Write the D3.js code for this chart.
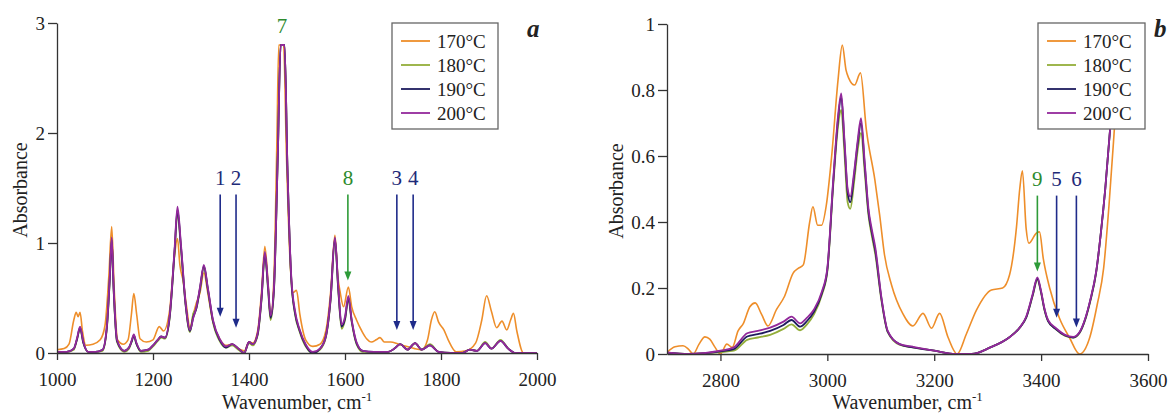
<!DOCTYPE html>
<html><head><meta charset="utf-8">
<script src="https://cdn.jsdelivr.net/npm/d3@7"></script>
<style>
body{margin:0;background:#fff}
svg{display:block}
svg text{font-family:"Liberation Serif","Times New Roman",serif !important;fill:#222}
</style>
</head><body>
<svg id="c" width="1169" height="414" font-family="Liberation Serif"></svg>
<script>
// ---------- DATA : panel a (1000–2000 cm-1) ----------
const seriesNames = ["170°C", "180°C", "190°C", "200°C"];

const aWn = [1000,1020,1035,1042,1048,1055,1065,1080,1095,1104,
1110,1114,1118,1125,1140,1150,1156,1160,1165,1175,
1190,1200,1210,1217,1225,1235,1245,1251,1258,1268,
1277,1284,1290,1298,1306,1314,1325,1340,1352,1365,
1378,1390,1400,1408,1418,1426,1433,1440,1445,1452,
1460,1466,1474,1480,1488,1496,1505,1518,1533,1548,
1560,1570,1579,1586,1593,1600,1607,1614,1624,1637,
1660,1690,1703,1715,1730,1746,1760,1777,1795,1820,
1845,1860,1875,1892,1905,1924,1940,1955,1970,2000];

const a200 = [0.01,0.01,0.04,0.14,0.24,0.10,0.01,0.01,0.03,0.25,
0.70,1.05,0.60,0.12,0.02,0.05,0.12,0.17,0.10,0.02,
0.03,0.07,0.12,0.15,0.14,0.35,0.95,1.33,1.00,0.45,
0.21,0.32,0.41,0.60,0.80,0.60,0.30,0.12,0.06,0.08,
0.04,0.00,0.10,0.08,0.18,0.50,0.92,0.60,0.34,0.60,
1.80,2.80,2.80,1.70,0.70,0.38,0.22,0.08,0.01,0.04,
0.15,0.50,1.05,0.60,0.26,0.33,0.52,0.30,0.10,0.02,
0.01,0.01,0.04,0.08,0.03,0.09,0.03,0.07,0.01,0.00,
0.00,0.03,0.02,0.09,0.04,0.11,0.04,0.00,0.00,0.00];

const a190 = [0.01,0.01,0.04,0.13,0.23,0.09,0.01,0.01,0.03,0.24,
0.68,1.03,0.58,0.11,0.02,0.05,0.11,0.16,0.09,0.02,
0.03,0.07,0.12,0.15,0.14,0.34,0.93,1.30,0.98,0.44,
0.20,0.33,0.40,0.59,0.79,0.59,0.29,0.11,0.05,0.08,
0.04,0.00,0.10,0.08,0.17,0.49,0.90,0.58,0.32,0.58,
1.80,2.80,2.80,1.70,0.68,0.36,0.21,0.07,0.00,0.04,
0.15,0.49,1.04,0.58,0.24,0.31,0.50,0.29,0.09,0.02,
0.01,0.01,0.04,0.08,0.03,0.09,0.03,0.07,0.01,0.00,
0.00,0.03,0.02,0.09,0.04,0.11,0.04,0.00,0.00,0.00];

const a180 = [0.01,0.01,0.03,0.13,0.22,0.09,0.01,0.01,0.02,0.23,
0.67,1.02,0.57,0.10,0.01,0.04,0.11,0.16,0.09,0.01,
0.02,0.06,0.11,0.14,0.13,0.33,0.92,1.28,0.96,0.43,
0.19,0.36,0.40,0.58,0.78,0.58,0.28,0.10,0.05,0.07,
0.03,0.00,0.09,0.07,0.16,0.48,0.89,0.56,0.30,0.57,
1.80,2.80,2.80,1.70,0.67,0.35,0.20,0.06,0.00,0.03,
0.14,0.48,1.03,0.57,0.22,0.30,0.49,0.28,0.08,0.01,
0.01,0.01,0.04,0.08,0.03,0.09,0.03,0.08,0.01,0.00,
0.00,0.03,0.02,0.10,0.04,0.12,0.04,0.00,0.00,0.00];

const aWn170 = [1000,1015,1025,1035,1040,1044,1048,1053,1060,1075,
1090,1100,1108,1114,1119,1126,1138,1148,1155,1160,
1166,1173,1186,1200,1213,1222,1235,1244,1251,1256,
1263,1270,1277,1284,1290,1298,1306,1314,1325,1340,
1352,1365,1378,1390,1400,1408,1418,1426,1433,1440,
1445,1452,1458,1462,1472,1478,1486,1492,1499,1506,
1518,1533,1548,1560,1570,1579,1585,1590,1597,1607,
1614,1624,1635,1645,1655,1665,1673,1682,1695,1712,
1729,1745,1760,1772,1780,1787,1795,1806,1815,1832,
1852,1872,1885,1895,1905,1916,1927,1937,1945,1951,
1958,1972,2000];

const a170 = [0.03,0.04,0.08,0.30,0.37,0.33,0.37,0.20,0.07,0.08,
0.12,0.25,0.70,1.15,0.60,0.12,0.08,0.12,0.35,0.54,
0.35,0.13,0.10,0.12,0.24,0.20,0.40,0.85,1.04,0.80,
0.65,0.42,0.23,0.35,0.45,0.55,0.73,0.55,0.28,0.12,
0.07,0.08,0.04,0.02,0.10,0.09,0.20,0.55,0.97,0.62,
0.32,0.70,1.90,2.80,2.80,1.80,0.80,0.55,0.57,0.35,
0.12,0.06,0.08,0.20,0.55,1.07,0.70,0.55,0.42,0.60,
0.42,0.30,0.20,0.13,0.10,0.12,0.14,0.10,0.10,0.08,
0.06,0.04,0.03,0.12,0.30,0.375,0.28,0.21,0.12,0.01,
0.02,0.09,0.30,0.52,0.38,0.23,0.29,0.21,0.30,0.36,
0.20,0.00,0.00];

// ---------- DATA : panel b (2700–3600 cm-1) ----------
const bWn = [2700,2740,2800,2825,2850,2870,2893,2918,2933,2949,
2962,2975,2990,3000,3011,3020,3026,3032,3038,3043,
3050,3057,3063,3070,3077,3083,3090,3101,3113,3135,
3160,3200,3240,3270,3305,3340,3360,3372,3384,3393,
3400,3406,3413,3428,3445,3460,3472,3483,3492,3503,
3512,3520,3530,3545];

const b200 = [0.005,0.0,0.01,0.02,0.063,0.07,0.08,0.098,0.113,0.093,
0.11,0.135,0.19,0.26,0.527,0.72,0.79,0.65,0.50,0.477,
0.55,0.65,0.715,0.58,0.44,0.38,0.32,0.174,0.07,0.03,
0.022,0.01,0.0,0.0,0.02,0.05,0.08,0.113,0.18,0.232,
0.19,0.14,0.103,0.078,0.058,0.052,0.067,0.11,0.164,0.25,
0.37,0.50,0.70,1.05];

const b190 = [0.004,0.0,0.008,0.015,0.053,0.06,0.07,0.088,0.103,0.083,
0.10,0.128,0.185,0.255,0.52,0.71,0.78,0.64,0.49,0.46,
0.54,0.64,0.70,0.57,0.43,0.37,0.31,0.17,0.068,0.03,
0.02,0.01,0.0,0.0,0.02,0.05,0.08,0.11,0.177,0.228,
0.187,0.137,0.10,0.075,0.056,0.05,0.065,0.108,0.162,0.248,
0.37,0.50,0.70,1.05];

const b180 = [0.003,0.0,0.006,0.01,0.043,0.05,0.058,0.076,0.09,0.072,
0.09,0.12,0.18,0.25,0.51,0.69,0.74,0.61,0.46,0.44,
0.52,0.62,0.67,0.55,0.42,0.36,0.30,0.165,0.066,0.028,
0.02,0.01,0.0,0.0,0.02,0.05,0.08,0.11,0.175,0.225,
0.185,0.135,0.10,0.075,0.055,0.05,0.064,0.106,0.16,0.246,
0.37,0.50,0.70,1.05];

const bWn170 = [2700,2715,2730,2740,2749,2760,2771,2780,2790,2800,
2812,2822,2833,2843,2855,2865,2877,2889,2905,2920,
2936,2946,2955,2967,2973,2982,2989,2998,3008,3020,
3028,3035,3040,3051,3062,3073,3089,3098,3107,3120,
3141,3160,3179,3195,3210,3226,3243,3260,3279,3307,
3328,3341,3354,3360,3365,3372,3377,3391,3397,3404,
3416,3434,3453,3472,3491,3505,3517,3527,3537,3550];

const b170 = [0.005,0.022,0.025,0.015,0.0,0.03,0.052,0.045,0.02,0.0,
0.03,0.02,0.07,0.093,0.143,0.155,0.12,0.085,0.135,0.175,
0.245,0.26,0.27,0.40,0.446,0.39,0.39,0.45,0.598,0.83,
0.936,0.86,0.836,0.815,0.852,0.68,0.527,0.42,0.30,0.21,
0.123,0.085,0.123,0.078,0.123,0.05,0.0,0.06,0.133,0.194,
0.20,0.24,0.386,0.50,0.555,0.38,0.336,0.366,0.37,0.29,
0.20,0.11,0.05,0.0,0.05,0.15,0.26,0.45,0.68,1.0];

// ---------- ticks ----------
const aXTicks = [1000,1200,1400,1600,1800,2000];
const aYTicks = [0,1,2,3];
const bXTicks = [2800,3000,3200,3400,3600];
const bYTicks = [0,0.2,0.4,0.6,0.8,1];

// ---------- band markers ----------
const aMarkLabels = ["1","2","8","3","4"];
const aMarkWn     = [1340,1373,1606,1708,1742];
const aMarkTip    = [0.33,0.23,0.66,0.21,0.21];
const aMarkKind   = ["blue","blue","green","blue","blue"];
const bMarkLabels = ["9","5","6"];
const bMarkWn     = [3393,3429,3466];
const bMarkTip    = [0.25,0.11,0.08];
const bMarkKind   = ["green","blue","blue"];

// ---------- drawing ----------
const FONT = "Liberation Serif, Times New Roman, serif";
const colors = ["#EE8E2A", "#93AE3A", "#1E1B5E", "#93299B"];
const markColor = {blue: "#1F2B8A", green: "#2E9B38"};
const markText  = {blue: "#1E2A78", green: "#2E8B2E"};
const svg = d3.select("#c");
svg.append("rect").attr("width",1169).attr("height",414).attr("fill","#fff");

function range(a,b,s){const r=[];for(let v=a;v<=b+1e-9;v+=s)r.push(+v.toFixed(4));return r;}

function panel(cfg, idx){
  const x = d3.scaleLinear().domain(cfg.xd).range(cfg.xr);
  const y = d3.scaleLinear().domain(cfg.yd).range(cfg.yr);
  const g = svg.append("g");
  const cid = "clip"+idx;
  svg.append("defs").append("clipPath").attr("id",cid).append("rect")
    .attr("x",cfg.xr[0]).attr("y",cfg.yr[1]).attr("width",cfg.xr[1]-cfg.xr[0]).attr("height",cfg.yr[0]-cfg.yr[1]);

  const line = d3.line().x(d=>x(d[0])).y(d=>y(d[1])).curve(d3.curveMonotoneX);
  const lg = g.append("g").attr("clip-path","url(#"+cid+")");
  cfg.series.forEach((s,i)=>{
    const pts = s.wn.map((w,k)=>[w,s.v[k]]);
    lg.append("path").attr("d",line(pts)).attr("fill","none")
      .attr("stroke",colors[i]).attr("stroke-width",i===0?1.6:1.8).attr("stroke-linejoin","round");
  });

  // axes
  const ax = g.append("g").attr("transform",`translate(0,${cfg.yr[0]})`);
  ax.call(d3.axisBottom(x).tickValues(cfg.xMinor).tickSize(5).tickFormat("").tickSizeOuter(0));
  ax.call(d3.axisBottom(x).tickValues(cfg.xTicks).tickSize(7).tickPadding(13).tickSizeOuter(0)
    .tickFormat(d3.format("d")));
  const ay = g.append("g").attr("transform",`translate(${cfg.xr[0]},0)`);
  ay.call(d3.axisLeft(y).tickValues(cfg.yMinor).tickSize(5).tickFormat("").tickSizeOuter(0));
  ay.call(d3.axisLeft(y).tickValues(cfg.yTicks).tickSize(9).tickPadding(3).tickSizeOuter(0)
    .tickFormat(d=>String(+d.toFixed(1))));
  ax.attr("font-family",FONT); ay.attr("font-family",FONT);
  g.selectAll(".domain, .tick line").attr("stroke","#333").attr("stroke-width",1.3);
  g.selectAll(".tick text").attr("font-size",19).attr("fill","#222").attr("font-family",FONT);

  // axis titles
  const xt = g.append("text").attr("x",(cfg.xr[0]+cfg.xr[1])/2).attr("y",409)
    .attr("text-anchor","middle").attr("font-size",20).attr("font-family",FONT);
  xt.append("tspan").text("Wavenumber, cm");
  xt.append("tspan").text("-1").attr("font-size",13).attr("dy",-8);
  g.append("text").attr("transform",`translate(${cfg.titleX},${(cfg.yr[0]+cfg.yr[1])/2+2}) rotate(-90)`)
    .attr("text-anchor","middle").attr("font-size",20).attr("font-family",FONT).text("Absorbance");

  // markers
  cfg.marks.labels.forEach((lab,i)=>{
    const mx = x(cfg.marks.wn[i]);
    const tip = y(cfg.marks.tip[i]);
    const top = y(cfg.marks.start);
    const col = markColor[cfg.marks.kind[i]];
    g.append("line").attr("x1",mx).attr("x2",mx).attr("y1",top).attr("y2",tip-7)
      .attr("stroke",col).attr("stroke-width",1.6);
    g.append("path").attr("d",`M${mx-3.5},${tip-9}L${mx+3.5},${tip-9}L${mx},${tip}Z`).attr("fill",col);
    g.append("text").attr("x",mx).attr("y",y(cfg.marks.labelY)).attr("text-anchor","middle")
      .attr("font-size",21).attr("font-family",FONT).style("fill",markText[cfg.marks.kind[i]]).text(lab);
  });
  if (cfg.extraLabel){
    g.append("text").attr("x",x(cfg.extraLabel.wn)).attr("y",y(cfg.extraLabel.v)).attr("text-anchor","middle")
      .attr("font-size",21).attr("font-family",FONT).style("fill",markText.green).text(cfg.extraLabel.text);
  }

  // legend
  const L = cfg.legend;
  g.append("rect").attr("x",L.x).attr("y",L.y).attr("width",L.w).attr("height",L.h)
    .attr("fill","#fff").attr("stroke","#666").attr("stroke-width",1.3);
  seriesNames.forEach((n,i)=>{
    const yy = L.y + 18 + i*24;
    g.append("line").attr("x1",L.x+9).attr("x2",L.x+38).attr("y1",yy).attr("y2",yy)
      .attr("stroke",colors[i]).attr("stroke-width",1.8);
    g.append("text").attr("x",L.x+45).attr("y",yy).attr("dy","0.35em").attr("font-size",19)
      .attr("font-family",FONT).text(n);
  });

  g.append("text").attr("x",cfg.letter.x).attr("y",37).attr("font-size",25).attr("font-family",FONT)
    .attr("font-weight","bold").attr("font-style","italic").text(cfg.letter.t);
}

panel({
  xd:[1000,2000], xr:[57,537], yd:[0,3], yr:[353,23],
  xTicks:aXTicks, xMinor:range(1050,1950,50).filter(v=>v%200!==0),
  yTicks:aYTicks, yMinor:range(0.2,2.8,0.2).filter(v=>Math.abs(v-Math.round(v))>1e-6),
  titleX:27,
  series:[{wn:aWn170,v:a170},{wn:aWn,v:a180},{wn:aWn,v:a190},{wn:aWn,v:a200}],
  marks:{labels:aMarkLabels, wn:aMarkWn, tip:aMarkTip, kind:aMarkKind, start:1.44, labelY:1.53},
  extraLabel:{text:"7", wn:1469, v:2.91},
  legend:{x:392,y:23,w:106,h:106},
  letter:{x:527,t:"a"}
},0);

panel({
  xd:[2700,3600], xr:[667,1148], yd:[0,1], yr:[354,24],
  xTicks:bXTicks, xMinor:range(2750,3550,50).filter(v=>v%200!==0),
  yTicks:bYTicks, yMinor:range(0.05,0.95,0.05).filter(v=>Math.abs(v*5-Math.round(v*5))>1e-6),
  titleX:623,
  series:[{wn:bWn170,v:b170},{wn:bWn,v:b180},{wn:bWn,v:b190},{wn:bWn,v:b200}],
  marks:{labels:bMarkLabels, wn:bMarkWn, tip:bMarkTip, kind:bMarkKind, start:0.48, labelY:0.51},
  legend:{x:1038,y:23,w:107,h:106},
  letter:{x:1154,t:"b"}
},1);
</script>
</body></html>
